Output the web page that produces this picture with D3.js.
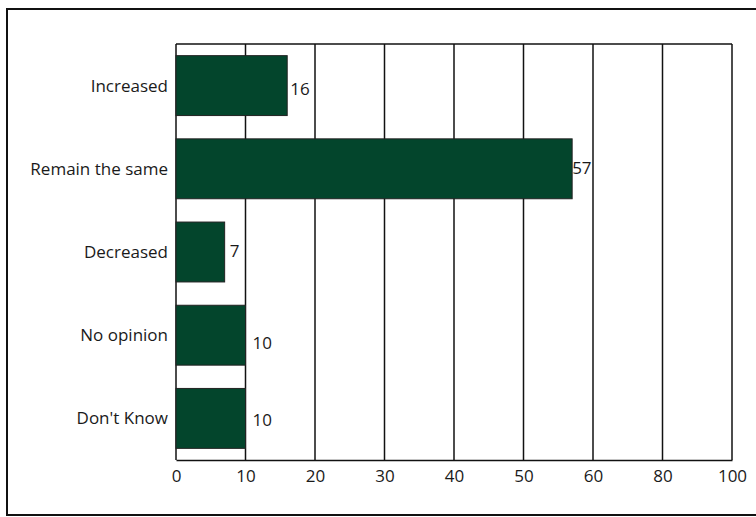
<!DOCTYPE html>
<html>
<head>
<meta charset="utf-8">
<script src="https://cdn.jsdelivr.net/npm/d3@7"></script>
<style>
  body { margin: 0; background: #fff; }
  text { font-family: "Open Sans", sans-serif; fill: #1a1a1a; }
</style>
</head>
<body>
<div id="main"></div>
<script>
// data
var categories = ["Increased", "Remain the same", "Decreased", "No opinion", "Don't Know"];
var values = [16, 57, 7, 10, 10];
var tickValues = [0, 10, 20, 30, 40, 50, 60, 70, 80];
var tickLabels = ["0", "10", "20", "30", "40", "50", "60", "80", "100"];

// small nudges for the value labels (dx, dy) as they sit in the original
var labelNudge = [[3, 3], [0, -1], [5, -1], [7, 8], [7, 2]];

var svg = d3.select("#main").append("svg")
    .attr("width", 756)
    .attr("height", 517);

// outer frame
svg.append("rect")
    .attr("x", 7).attr("y", 9)
    .attr("width", 760).attr("height", 506)
    .attr("fill", "none")
    .attr("stroke", "#111")
    .attr("stroke-width", 2);

var plotLeft = 176, plotRight = 732, plotTop = 44, plotBottom = 460;

var x = d3.scaleLinear().domain([0, 80]).range([plotLeft, plotRight]);
var y = d3.scaleBand().domain(categories).range([plotTop, plotBottom])
    .paddingInner(0.28).paddingOuter(0.14);

// grid lines
svg.append("g").selectAll("line")
    .data(tickValues)
    .join("line")
    .attr("x1", d => x(d)).attr("x2", d => x(d))
    .attr("y1", plotTop).attr("y2", plotBottom)
    .attr("stroke", "#111")
    .attr("stroke-width", 1.5);

// top border of the plot
svg.append("line")
    .attr("x1", plotLeft).attr("x2", plotRight).attr("y1", plotTop).attr("y2", plotTop)
    .attr("stroke", "#111").attr("stroke-width", 1.5);

// x axis
var xAxis = d3.axisBottom(x)
    .tickValues(tickValues)
    .tickSize(0)
    .tickPadding(10)
    .tickFormat((d, i) => tickLabels[i]);

var gx = svg.append("g")
    .attr("transform", "translate(0," + plotBottom + ")")
    .call(xAxis);
gx.select(".domain").attr("stroke", "#111").attr("stroke-width", 1.5);
gx.selectAll("text").attr("font-size", 17).attr("font-family", "Open Sans").attr("fill", "#1a1a1a");

// bars
svg.append("g").selectAll("rect")
    .data(values)
    .join("rect")
    .attr("x", x(0))
    .attr("y", (d, i) => y(categories[i]))
    .attr("width", d => x(d) - x(0))
    .attr("height", y.bandwidth())
    .attr("fill", "#03452c")
    .attr("stroke", "#222")
    .attr("stroke-width", 1);

// category labels
svg.append("g").selectAll("text")
    .data(categories)
    .join("text")
    .attr("x", plotLeft - 8)
    .attr("y", d => y(d) + y.bandwidth() / 2)
    .attr("dy", "0.35em")
    .attr("text-anchor", "end")
    .attr("font-size", 17)
    .text(d => d);

// value labels
svg.append("g").selectAll("text")
    .data(values)
    .join("text")
    .attr("x", (d, i) => x(d) + labelNudge[i][0])
    .attr("y", (d, i) => y(categories[i]) + y.bandwidth() / 2 + labelNudge[i][1])
    .attr("dy", "0.35em")
    .attr("font-size", 17)
    .text(d => d);
</script>
</body>
</html>
